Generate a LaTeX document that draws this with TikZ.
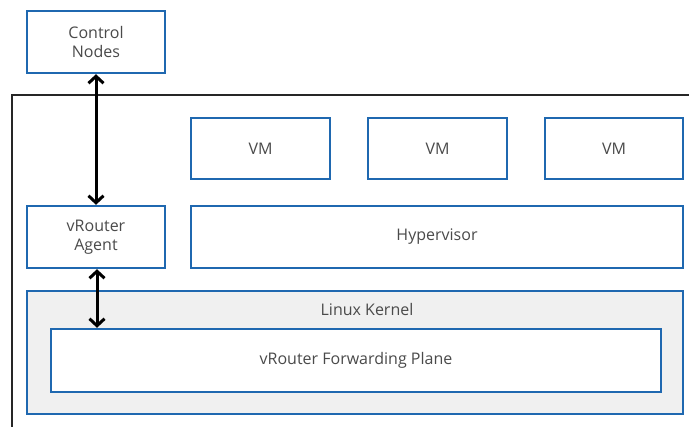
\documentclass[tikz,border=0pt]{standalone}
\usepackage{fontspec}
\setmainfont{Open Sans}
\usetikzlibrary{arrows.meta}
\definecolor{boxblue}{HTML}{1F68B0}
\definecolor{kernelfill}{HTML}{F0F0F0}
\definecolor{txt}{HTML}{4A4A4A}
\begin{document}
\begin{tikzpicture}[x=1pt,y=-1pt,
  bluebox/.style={draw=boxblue,line width=2.4pt,fill=white,text=txt,align=center,
    font=\fontsize{16}{18.5}\selectfont,inner sep=0pt},
  biarrow/.style={line width=3pt,{Straight Barb[length=7pt,width=15pt]}-{Straight Barb[length=7pt,width=15pt]}}]
\useasboundingbox (0,0) rectangle (689,427);
% outer frame
\draw[line width=2.4pt,black!85] (12,427) -- (12,95) -- (689,95);
% boxes
\node[bluebox,minimum width=138pt,minimum height=62pt] (ctrl) at (96,42) {Control\\Nodes};
\node[bluebox,minimum width=139pt,minimum height=61pt] (vm1) at (260.5,148.5) {VM};
\node[bluebox,minimum width=139pt,minimum height=61pt] (vm2) at (437.5,148.5) {VM};
\node[bluebox,minimum width=138pt,minimum height=61pt] (vm3) at (614,148.5) {VM};
\node[bluebox,minimum width=138pt,minimum height=62pt] (agent) at (96,237) {vRouter\\Agent};
\node[bluebox,minimum width=492pt,minimum height=62pt] (hyp) at (437,237) {Hypervisor};
\node[bluebox,fill=kernelfill,minimum width=656pt,minimum height=123pt] (kernel) at (355,352.5) {};
\node[text=txt,font=\fontsize{16}{18.5}\selectfont] (kernellabel) at (367,310) {Linux Kernel};
\node[bluebox,minimum width=610pt,minimum height=63pt] (fwd) at (356,360.5) {vRouter Forwarding Plane};
% arrows
\draw[biarrow] (ctrl.south) -- (agent.north);
\draw[biarrow] ([xshift=1pt]agent.south) -- ([xshift=1pt]agent.south |- fwd.north);
\end{tikzpicture}
\end{document}
